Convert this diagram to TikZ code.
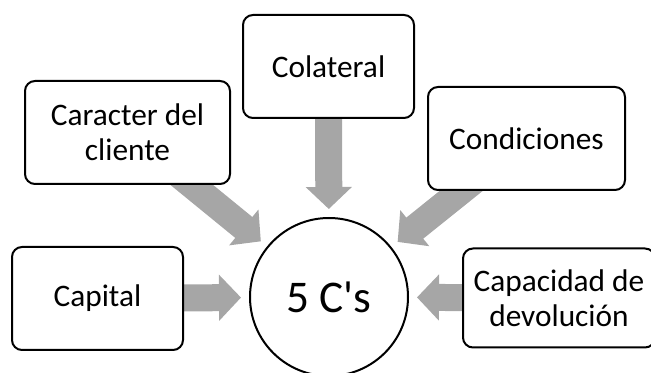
\documentclass[tikz,border=0pt]{standalone}
\usepackage{fontspec}
\setmainfont{Carlito}[Ligatures=TeXOff]
\usetikzlibrary{arrows.meta}
\definecolor{arrgray}{HTML}{A6A6A6}
\pgfdeclarelayer{background}
\pgfsetlayers{background,main}
\begin{document}
\begin{tikzpicture}[x=0.75pt,y=-0.75pt,
  cbox/.style={draw=black,line width=1.5pt,rounded corners=7.5pt,fill=white,
    minimum height=77.25pt,inner sep=0pt,outer sep=0pt,align=center,
    font=\fontsize{23.5}{26.5}\selectfont},
  hub/.style={draw=black,line width=1.5pt,circle,fill=white,minimum size=118.5pt,
    inner sep=0pt,outer sep=0pt,font=\fontsize{34}{40}\selectfont},
  fatarrow/.style={draw=arrgray,line width=20.25pt,line cap=butt,
    -{Triangle[width=33.75pt,length=16.5pt]},shorten >=6.75pt}]
\useasboundingbox (0,0) rectangle (651,373);
\node[hub] (c5) at (329,297) {5 C's};
\node[cbox,minimum width=128.25pt] (col) at (328.5,66.5) {Colateral};
\node[cbox,minimum width=153.75pt] (car) at (127.5,132.5) {Caracter del\\cliente};
\node[cbox,minimum width=147.75pt] (con) at (526.5,138.5) {Condiciones};
\node[cbox,minimum width=128.25pt] (cap) at (97.5,298.5) {Capital};
\node[cbox,minimum width=144pt,minimum height=74.25pt] (dev) at (559,298) {Capacidad de\\devolución};
\begin{pgfonlayer}{background}
\draw[fatarrow] (col.center) -- (c5);
\draw[fatarrow] (car.center) -- (c5);
\draw[fatarrow] (con.center) -- (c5);
\draw[fatarrow] (cap.center) -- (c5);
\draw[fatarrow] (dev.center) -- (c5);
\end{pgfonlayer}
\end{tikzpicture}
\end{document}
